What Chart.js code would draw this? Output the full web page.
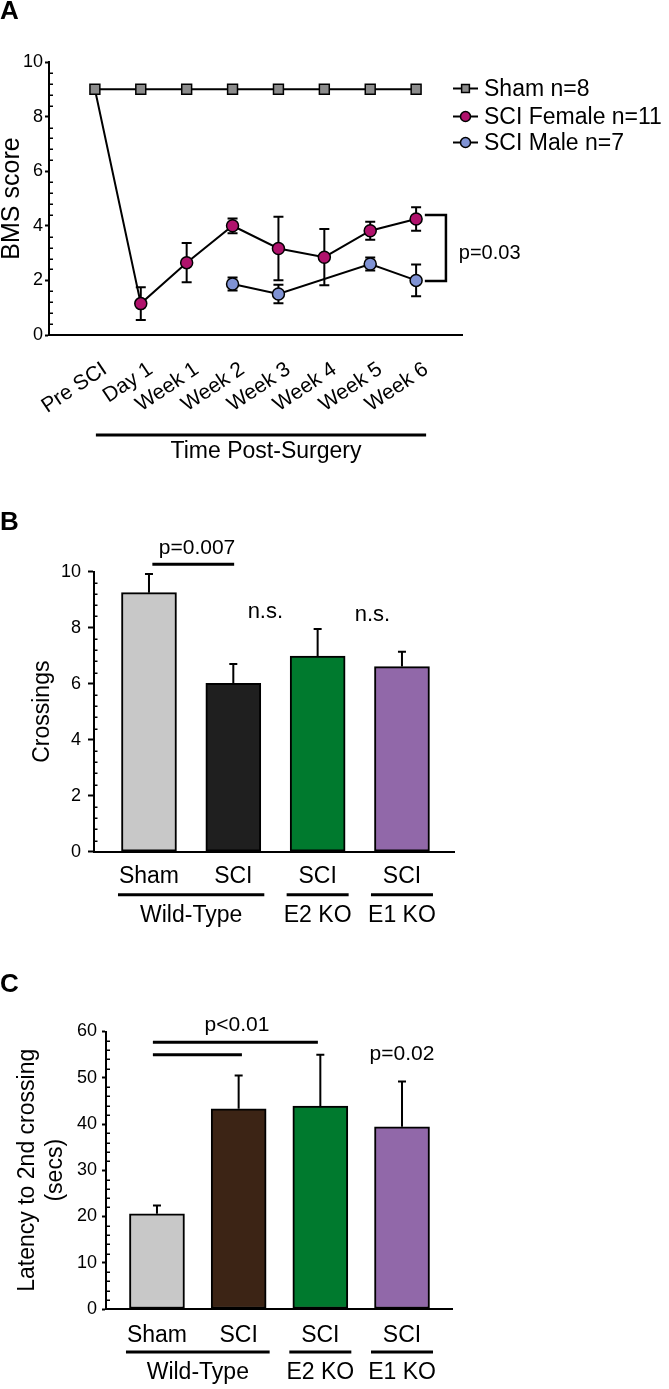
<!DOCTYPE html>
<html lang="en">
<head>
<meta charset="utf-8">
<title>BMS score, crossings and latency after SCI</title>
<script src="https://cdn.jsdelivr.net/npm/chart.js@4.4.1/dist/chart.umd.min.js"></script>
<style>
  html, body { margin: 0; padding: 0; background: #fff; }
  body { position: relative; width: 669px; height: 1389px; overflow: hidden; }
  canvas { position: absolute; left: 0; }
  .panel-tag { position: absolute; left: 0; margin: 0; z-index: 2; color: #000;
               font: bold 26px 'Liberation Sans', Arial, sans-serif; line-height: 26px; }
</style>
</head>
<body>
<canvas id="chartA" width="669" height="480" style="top:0"></canvas>
<canvas id="chartB" width="669" height="455" style="top:480px"></canvas>
<canvas id="chartC" width="669" height="454" style="top:935px"></canvas>
<div class="panel-tag" style="top:-3px">A</div>
<div class="panel-tag" style="top:508px">B</div>
<div class="panel-tag" style="top:970px">C</div>
<script>
// === Date ================================================================
// Panel A — scor BMS in timp
const timeLabels = ['Pre SCI', 'Day 1', 'Week 1', 'Week 2', 'Week 3', 'Week 4', 'Week 5', 'Week 6'];
const shamBms = [9, 9, 9, 9, 9, 9, 9, 9];
const femaleBms = [9, 1.15, 2.65, 4.0, 3.17, 2.85, 3.82, 4.25];
const femaleErr = [0, 0.6, 0.72, 0.27, 1.16, 1.03, 0.33, 0.43];
const maleBms = [null, null, null, 1.87, 1.5, null, 2.6, 2.0];
const maleErr = [0, 0, 0, 0.24, 0.34, 0, 0.24, 0.58];

// Panel B / C — grupuri comune
const barLabels = ['Sham', 'SCI', 'SCI', 'SCI'];
const genotypeGroups = [
    { label: 'Wild-Type', from: 0, to: 1 },
    { label: 'E2 KO', from: 2, to: 2 },
    { label: 'E1 KO', from: 3, to: 3 },
];

// Panel B — crossings
const crossings = [9.25, 6.01, 6.99, 6.61];
const crossingsErr = [0.67, 0.69, 0.96, 0.53];

// Panel C — latenta la a doua traversare (secunde)
const latency = [20.6, 43.3, 43.9, 39.4];
const latencyErr = [1.8, 7.2, 11.1, 9.8];

// === Setari globale ======================================================
const FONT = "'Liberation Sans', Arial, Helvetica, sans-serif";
Chart.defaults.font.family = FONT;
Chart.defaults.color = '#000';
Chart.defaults.animation = false;
Chart.defaults.events = [];
Chart.defaults.plugins.legend.display = false;
Chart.defaults.plugins.tooltip.enabled = false;

const toXY = (arr) => arr.map((y, i) => ({ x: i, y: y }));

// Bare de eroare: citeste dataset.errors; 'both' sub serii (linii), 'up' peste bare
function drawErrorBars(chart, dir) {
    const ctx = chart.ctx;
    const yScale = chart.scales.y;
    chart.data.datasets.forEach((ds, i) => {
        if (!ds.errors || (ds.errorDir || 'both') !== dir) return;
        const meta = chart.getDatasetMeta(i);
        const cap = ds.errorCap || 4;
        ctx.save();
        ctx.strokeStyle = '#000';
        ctx.lineWidth = 2;
        meta.data.forEach((el, j) => {
            const raw = ds.data[j];
            const v = raw && typeof raw === 'object' ? raw.y : raw;
            const e = ds.errors[j];
            if (v === null || v === undefined || !e) return;
            const x = el.x;
            const yTop = yScale.getPixelForValue(v + e);
            const yBot = yScale.getPixelForValue(dir === 'up' ? v : v - e);
            ctx.beginPath();
            ctx.moveTo(x, yTop); ctx.lineTo(x, yBot);
            ctx.moveTo(x - cap, yTop); ctx.lineTo(x + cap, yTop);
            if (dir === 'both') { ctx.moveTo(x - cap, yBot); ctx.lineTo(x + cap, yBot); }
            ctx.stroke();
        });
        ctx.restore();
    });
}

const errorBarsPlugin = {
    id: 'errorBars',
    beforeDatasetsDraw: (chart) => drawErrorBars(chart, 'both'),
    afterDatasetsDraw: (chart) => drawErrorBars(chart, 'up'),
};

// Tick-uri minore pe interiorul axei Y
const minorTicksPlugin = {
    id: 'minorTicks',
    afterDraw(chart, args, opts) {
        if (!opts.step) return;
        const ys = chart.scales.y;
        const ctx = chart.ctx;
        const x0 = chart.chartArea.left;
        const n = Math.round((ys.max - ys.min) / opts.step);
        ctx.save();
        ctx.strokeStyle = '#000';
        ctx.lineWidth = 1.5;
        for (let k = 1; k < n; k++) {
            const v = ys.min + k * opts.step;
            if (Math.abs(v / opts.major - Math.round(v / opts.major)) < 1e-6) continue;
            const y = Math.round(ys.getPixelForValue(v)) + 0.25;
            ctx.beginPath();
            ctx.moveTo(x0, y);
            ctx.lineTo(x0 + opts.length, y);
            ctx.stroke();
        }
        ctx.restore();
    },
};

// Adnotari: linii de semnificatie, texte p, grupe sub axa, legenda
const notesPlugin = {
    id: 'notes',
    afterDraw(chart, args, opts) {
        const ctx = chart.ctx;
        const xs = chart.scales.x;
        const ys = chart.scales.y;
        const bottom = chart.chartArea.bottom;
        ctx.save();
        ctx.strokeStyle = '#000';
        ctx.fillStyle = '#000';
        ctx.lineCap = 'butt';

        (opts.lines || []).forEach((l) => {
            const y = ys.getPixelForValue(l.y);
            ctx.lineWidth = 3;
            ctx.beginPath();
            ctx.moveTo(xs.getPixelForValue(l.x1), y);
            ctx.lineTo(xs.getPixelForValue(l.x2), y);
            ctx.stroke();
        });

        if (opts.bracket) {
            const b = opts.bracket;
            const xv = xs.getPixelForValue(b.x);
            const xl = xs.getPixelForValue(b.stub);
            const y1 = ys.getPixelForValue(b.y1);
            const y2 = ys.getPixelForValue(b.y2);
            ctx.lineWidth = 2.5;
            ctx.beginPath();
            ctx.moveTo(xl, y1); ctx.lineTo(xv, y1); ctx.lineTo(xv, y2); ctx.lineTo(xl, y2);
            ctx.stroke();
        }

        (opts.texts || []).forEach((t) => {
            ctx.font = `${t.size}px ${FONT}`;
            ctx.textAlign = t.align || 'center';
            ctx.textBaseline = 'middle';
            ctx.fillText(t.text, xs.getPixelForValue(t.x), ys.getPixelForValue(t.y));
        });

        if (opts.groups) {
            const g = opts.groups;
            g.items.forEach((grp) => {
                const x1 = xs.getPixelForValue(grp.from) - g.pad;
                const x2 = xs.getPixelForValue(grp.to) + g.pad;
                ctx.lineWidth = 3;
                ctx.beginPath();
                ctx.moveTo(x1, bottom + g.lineY);
                ctx.lineTo(x2, bottom + g.lineY);
                ctx.stroke();
                ctx.font = `${g.size}px ${FONT}`;
                ctx.textAlign = 'center';
                ctx.textBaseline = 'middle';
                ctx.fillText(grp.label, (x1 + x2) / 2, bottom + g.textY);
            });
        }

        if (opts.span) {
            const s = opts.span;
            const x1 = xs.getPixelForValue(s.from) + 1;
            const x2 = xs.getPixelForValue(s.to) + 10;
            ctx.lineWidth = 3;
            ctx.beginPath();
            ctx.moveTo(x1, bottom + s.lineY);
            ctx.lineTo(x2, bottom + s.lineY);
            ctx.stroke();
            ctx.font = `${s.size}px ${FONT}`;
            ctx.textAlign = 'center';
            ctx.textBaseline = 'middle';
            ctx.fillText(s.text, (x1 + x2) / 2 + 5, bottom + s.textY);
        }

        if (opts.legend) {
            const lg = opts.legend;
            chart.data.datasets.forEach((ds, i) => {
                const y = lg.rows[i];
                ctx.strokeStyle = '#000';
                ctx.lineWidth = 2;
                ctx.beginPath();
                ctx.moveTo(lg.x1, y);
                ctx.lineTo(lg.x2, y);
                ctx.stroke();
                ctx.fillStyle = ds.pointBackgroundColor;
                ctx.strokeStyle = '#000';
                ctx.lineWidth = 1.5;
                Chart.helpers.drawPoint(ctx, {
                    pointStyle: ds.pointStyle,
                    radius: ds.pointStyle === 'rect' ? 5.5 : 5,
                    rotation: 0,
                    borderWidth: 1.5,
                }, (lg.x1 + lg.x2) / 2, y);
                ctx.fillStyle = '#000';
                ctx.font = `${lg.size}px ${FONT}`;
                ctx.textAlign = 'left';
                ctx.textBaseline = 'middle';
                ctx.fillText(ds.label, lg.textX, y + 1);
            });
        }
        ctx.restore();
    },
};

// Axa Y comuna (latime fixa ca sa potrivim aria de desen)
function yAxis(o) {
    return {
        min: o.min,
        max: o.max,
        afterFit: (s) => { s.width = o.width; },
        border: { display: true, color: '#000', width: 2 },
        grid: { display: true, drawOnChartArea: false, drawTicks: true, tickLength: o.tickLength, tickWidth: 2, tickColor: '#000' },
        ticks: { stepSize: o.step, padding: o.pad, font: { size: 18 } },
        title: {
            display: true,
            text: o.title,
            font: { size: o.titleSize, lineHeight: o.titleLineHeight || 1.2 },
            padding: { top: o.titlePad, bottom: 0 },
        },
    };
}

// === Panel A — linii cu bare de eroare ==================================
new Chart(document.getElementById('chartA'), {
    type: 'line',
    data: {
        datasets: [
            {
                label: 'Sham n=8',
                data: toXY(shamBms),
                borderColor: '#000',
                borderWidth: 2,
                pointStyle: 'rect',
                pointRadius: 7,
                pointBackgroundColor: '#8c8c8c',
                pointBorderColor: '#000',
                pointBorderWidth: 1.5,
            },
            {
                label: 'SCI Female n=11',
                data: toXY(femaleBms),
                errors: femaleErr,
                errorCap: 5,
                borderColor: '#000',
                borderWidth: 2,
                pointStyle: 'circle',
                pointRadius: (c) => (c.dataIndex === 0 ? 0 : 6),
                pointBackgroundColor: '#b0126c',
                pointBorderColor: '#000',
                pointBorderWidth: 1.5,
            },
            {
                label: 'SCI Male n=7',
                data: toXY(maleBms),
                errors: maleErr,
                errorCap: 5,
                spanGaps: true,
                borderColor: '#000',
                borderWidth: 2,
                pointStyle: 'circle',
                pointRadius: 6,
                pointBackgroundColor: '#7f92d4',
                pointBorderColor: '#000',
                pointBorderWidth: 1.5,
            },
        ],
    },
    options: {
        responsive: false,
        layout: { padding: { left: 0, top: 62, right: 207, bottom: 45 } },
        scales: {
            x: {
                type: 'linear',
                offset: false,
                min: -1,
                max: 8,
                afterFit: (s) => { s.height = 100; },
                afterBuildTicks: (s) => { s.ticks = timeLabels.map((_, i) => ({ value: i })); },
                border: { display: true, color: '#000', width: 2 },
                grid: { display: false, drawTicks: false },
                ticks: {
                    autoSkip: false,
                    minRotation: 34,
                    maxRotation: 34,
                    padding: 22,
                    labelOffset: 10,
                    font: { size: 21 },
                    callback: (v) => timeLabels[v],
                },
            },
            y: yAxis({ min: 0, max: 10, step: 2, width: 49, tickLength: 4, pad: 2, title: 'BMS score', titleSize: 25, titleLineHeight: 1, titlePad: 0 }),
        },
        plugins: {
            minorTicks: { step: 0.4, major: 2, length: 4 },
            notes: {
                bracket: { x: 7.65, stub: 7.19, y1: 4.4, y2: 1.98 },
                texts: [{ x: 7.93, y: 2.97, text: 'p=0.03', size: 20, align: 'left' }],
                span: { from: 0, to: 7, lineY: 100, textY: 117, text: 'Time Post-Surgery', size: 23 },
                legend: { x1: 453, x2: 478, textX: 484, rows: [88.5, 116.5, 142.5], size: 23 },
            },
        },
    },
    plugins: [errorBarsPlugin, minorTicksPlugin, notesPlugin],
});

// === Panel B / C — bare ==================================================
function makeBarChart(id, values, errs, colors, cfg) {
    return new Chart(document.getElementById(id), {
        type: 'bar',
        data: {
            datasets: [{
                data: toXY(values),
                errors: errs,
                errorDir: 'up',
                errorCap: 4,
                backgroundColor: colors,
                borderColor: '#000',
                borderWidth: 2,
                borderSkipped: false,
                barThickness: 55,
            }],
        },
        options: {
            responsive: false,
            layout: { padding: cfg.padding },
            scales: {
                x: {
                    type: 'linear',
                    // bar chart pune offset:true implicit — pe axa liniara asta comprima barele
                    offset: false,
                    min: cfg.xMin,
                    max: cfg.xMax,
                    afterFit: (s) => { s.height = 60; },
                    afterBuildTicks: (s) => { s.ticks = barLabels.map((_, i) => ({ value: i })); },
                    border: { display: true, color: '#000', width: 2 },
                    grid: { display: false, drawTicks: false, offset: false },
                    ticks: {
                        autoSkip: false,
                        maxRotation: 0,
                        minRotation: 0,
                        padding: cfg.labelPad,
                        font: { size: 23 },
                        callback: (v) => barLabels[v],
                    },
                },
                y: yAxis(cfg.y),
            },
            plugins: {
                minorTicks: cfg.minor,
                notes: {
                    lines: cfg.lines,
                    texts: cfg.texts,
                    groups: { items: genotypeGroups, pad: 31, lineY: 43, textY: 64, size: 23 },
                },
            },
        },
        plugins: [errorBarsPlugin, minorTicksPlugin, notesPlugin],
    });
}

makeBarChart('chartB', crossings, crossingsErr, ['#c8c8c8', '#1f1f1f', '#007a2e', '#9168a9'], {
    padding: { left: 0, top: 91.7, right: 215, bottom: 23.3 },
    xMin: -0.652,
    xMax: 3.617,
    labelPad: 11,
    y: { min: 0, max: 10, step: 2, width: 94, tickLength: 6, pad: 7, title: 'Crossings', titleSize: 23, titlePad: 29 },
    minor: { step: 0.4, major: 2, length: 3.5 },
    lines: [{ x1: 0.04, x2: 1.01, y: 10.27 }],
    texts: [
        { x: 0.57, y: 10.85, text: 'p=0.007', size: 21 },
        { x: 1.38, y: 8.56, text: 'n.s.', size: 22 },
        { x: 2.65, y: 8.45, text: 'n.s.', size: 22 },
    ],
});

makeBarChart('chartC', latency, latencyErr, ['#c8c8c8', '#3c2415', '#007a2e', '#9168a9'], {
    padding: { left: 0, top: 96.5, right: 217, bottom: 20 },
    xMin: -0.624,
    xMax: 3.612,
    labelPad: 13,
    y: { min: 0, max: 60, step: 10, width: 106, tickLength: 4, pad: 5, title: ['Latency to 2nd crossing', '(secs)'], titleSize: 23, titlePad: 14 },
    minor: { step: 2, major: 10, length: 4 },
    lines: [
        { x1: -0.05, x2: 1.97, y: 57.7 },
        { x1: -0.05, x2: 1.04, y: 55.0 },
    ],
    texts: [
        { x: 0.98, y: 61.3, text: 'p<0.01', size: 21 },
        { x: 3.0, y: 55.0, text: 'p=0.02', size: 21 },
    ],
});
</script>
</body>
</html>
